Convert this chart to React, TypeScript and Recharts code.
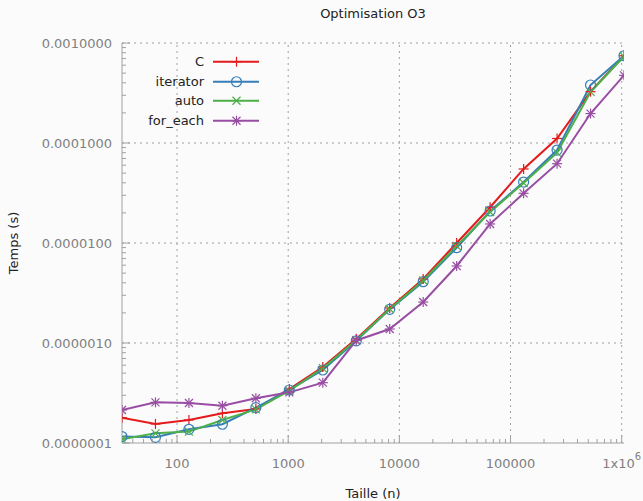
import React from 'react';
import { LineChart, Line, XAxis, YAxis, ReferenceLine, Legend, Label } from 'recharts';

const sizes = [32, 64, 128, 256, 512, 1024, 2048, 4096, 8192, 16384, 32768, 65536, 131072, 262144, 524288, 1048576];
const timesC = [1.79e-7, 1.55e-7, 1.7e-7, 1.98e-7, 2.19e-7, 3.47e-7, 5.75e-7, 1.1e-6, 2.24e-6, 4.37e-6, 1.0e-5, 2.28e-5, 5.5e-5, 1.11e-4, 3.26e-4, 7.46e-4];
const timesIterator = [1.16e-7, 1.14e-7, 1.37e-7, 1.54e-7, 2.26e-7, 3.39e-7, 5.37e-7, 1.05e-6, 2.17e-6, 4.1e-6, 8.97e-6, 2.09e-5, 4.07e-5, 8.5e-5, 3.8e-4, 7.46e-4];
const timesAuto = [1.09e-7, 1.25e-7, 1.3e-7, 1.7e-7, 2.17e-7, 3.33e-7, 5.6e-7, 1.07e-6, 2.19e-6, 4.22e-6, 9.33e-6, 2.04e-5, 3.98e-5, 8.0e-5, 3.24e-4, 7.33e-4];
const timesForEach = [2.14e-7, 2.55e-7, 2.51e-7, 2.36e-7, 2.8e-7, 3.21e-7, 4.01e-7, 1.06e-6, 1.38e-6, 2.57e-6, 5.89e-6, 1.55e-5, 3.14e-5, 6.21e-5, 1.97e-4, 4.75e-4];

const seriesNames = ['C', 'iterator', 'auto', 'for_each'];
const seriesColors = ['#e41a1c', '#377eb8', '#4daf4a', '#984ea3'];

const xMajor = [100, 1000, 10000, 100000, 1000000];
const xMajorLabels = ['100', '1000', '10000', '100000', '1x10^6'];
const yMajor = [1e-7, 1e-6, 1e-5, 1e-4, 1e-3];
const yMajorLabels = ['0.0000001', '0.0000010', '0.0000100', '0.0001000', '0.0010000'];
const minorMultipliers = [2, 3, 4, 5, 6, 7, 8, 9];

const xMinor: number[] = [];
[10, 100, 1000, 10000, 100000].forEach((d) =>
  minorMultipliers.forEach((m) => {
    const v = d * m;
    if (v >= 32 && v <= 1048576) xMinor.push(v);
  })
);
const yMinor: number[] = [];
[1e-7, 1e-6, 1e-5, 1e-4].forEach((d) => minorMultipliers.forEach((m) => yMinor.push(d * m)));

const xTicks = [...xMinor, ...xMajor].sort((a, b) => a - b);
const yTicks = [...yMinor, ...yMajor].sort((a, b) => a - b);

const data = sizes.map((n, i) => ({
  n,
  C: timesC[i],
  iterator: timesIterator[i],
  auto: timesAuto[i],
  for_each: timesForEach[i],
}));

const FONT = '"DejaVu Sans", Verdana, sans-serif';
const AXIS = '#a0a0a0';
const TICK_TEXT = '#808080';
const TEXT = '#222222';
const GRID = '#a0a0a0';

function marker(kind: string, cx: number, cy: number, color: string, key?: any) {
  const sw = 1.2;
  if (kind === 'C') {
    return (
      <g key={key}>
        <line x1={cx - 5} x2={cx + 5} y1={cy} y2={cy} stroke={color} strokeWidth={sw} />
        <line x1={cx} x2={cx} y1={cy - 5} y2={cy + 5} stroke={color} strokeWidth={sw} />
      </g>
    );
  }
  if (kind === 'iterator') {
    return (
      <g key={key}>
        <circle cx={cx} cy={cy} r={5} fill="none" stroke={color} strokeWidth={sw} />
      </g>
    );
  }
  if (kind === 'auto') {
    return (
      <g key={key}>
        <line x1={cx - 4} x2={cx + 4} y1={cy - 4} y2={cy + 4} stroke={color} strokeWidth={sw} />
        <line x1={cx - 4} x2={cx + 4} y1={cy + 4} y2={cy - 4} stroke={color} strokeWidth={sw} />
      </g>
    );
  }
  return (
    <g key={key}>
      <line x1={cx - 5} x2={cx + 5} y1={cy} y2={cy} stroke={color} strokeWidth={sw} />
      <line x1={cx} x2={cx} y1={cy - 5} y2={cy + 5} stroke={color} strokeWidth={sw} />
      <line x1={cx - 4} x2={cx + 4} y1={cy - 4} y2={cy + 4} stroke={color} strokeWidth={sw} />
      <line x1={cx - 4} x2={cx + 4} y1={cy + 4} y2={cy - 4} stroke={color} strokeWidth={sw} />
    </g>
  );
}

function makeDot(kind: string, color: string) {
  return (props: any) => {
    const { cx, cy, index } = props;
    if (cx == null || cy == null) return <g key={`${kind}-${index}`} />;
    return marker(kind, cx, cy, color, `${kind}-${index}`);
  };
}

function XTick(props: any) {
  const { x, y, payload } = props;
  const i = xMajor.indexOf(payload.value);
  const major = i >= 0;
  const label = major ? xMajorLabels[i] : '';
  let content: any = label;
  if (label.includes('^')) {
    const [base, exp] = label.split('^');
    content = (
      <>
        {base}
        <tspan dy={-7} fontSize={10}>
          {exp}
        </tspan>
      </>
    );
  }
  return (
    <g>
      <line x1={x} x2={x} y1={y} y2={y - (major ? 8 : 4)} stroke={AXIS} strokeWidth={1} />
      {major && (
        <text x={x} y={y + 20} textAnchor="middle" dominantBaseline="central" fill={TICK_TEXT} fontSize={13} fontFamily={FONT}>
          {content}
        </text>
      )}
    </g>
  );
}

function YTick(props: any) {
  const { x, y, payload } = props;
  const i = yMajor.findIndex((v) => Math.abs(v - payload.value) / v < 1e-6);
  const major = i >= 0;
  return (
    <g>
      <line x1={x} x2={x + (major ? 8 : 4)} y1={y} y2={y} stroke={AXIS} strokeWidth={1} />
      {major && (
        <text x={x - 10} y={y} textAnchor="end" dominantBaseline="central" fill={TICK_TEXT} fontSize={13} fontFamily={FONT}>
          {yMajorLabels[i]}
        </text>
      )}
    </g>
  );
}

function renderLegend(props: any) {
  const payload = [...(props.payload || [])].sort(
    (a: any, b: any) => seriesNames.indexOf(a.dataKey) - seriesNames.indexOf(b.dataKey)
  );
  return (
    <div style={{ fontFamily: FONT, fontSize: 13, color: TEXT }}>
      {payload.map((p: any) => (
        <div key={p.value} style={{ display: 'flex', alignItems: 'center', height: 19.5 }}>
          <div style={{ width: 204, textAlign: 'right', lineHeight: '19.5px' }}>{p.value}</div>
          <svg width={56} height={19.5} style={{ display: 'block' }}>
            <line x1={9} x2={55} y1={9.75} y2={9.75} stroke={p.color} strokeWidth={2} />
            {marker(p.dataKey, 32.5, 9.75, p.color)}
          </svg>
        </div>
      ))}
    </div>
  );
}

export default function App() {
  return (
    <div
      style={{
        position: 'absolute',
        left: 0,
        top: 0,
        width: 643,
        height: 501,
        background: '#fbfbfb',
        fontFamily: FONT,
      }}
    >
      <div
        style={{
          position: 'absolute',
          left: 122,
          width: 502,
          top: 5,
          lineHeight: '18px',
          textAlign: 'center',
          fontSize: 13,
          color: TEXT,
          fontFamily: FONT,
        }}
      >
        Optimisation O3
      </div>
      <LineChart width={643} height={501} data={data} margin={{ top: 43, right: 19, bottom: 0, left: 0 }}>
        {xMajor.map((v) => (
          <ReferenceLine key={`gx${v}`} x={v} stroke={GRID} strokeDasharray="2 4" strokeWidth={1} />
        ))}
        {yMajor.slice(1).map((v) => (
          <ReferenceLine key={`gy${v}`} y={v} stroke={GRID} strokeDasharray="2 4" strokeWidth={1} />
        ))}
        <XAxis
          dataKey="n"
          type="number"
          scale="log"
          domain={[32, 1048576]}
          ticks={xTicks}
          interval={0}
          tick={<XTick />}
          tickLine={false}
          tickSize={0}
          tickMargin={0}
          height={58}
          axisLine={{ stroke: AXIS, strokeWidth: 1 }}
          allowDataOverflow
        >
          <Label
            content={(p: any) => {
              const vb = p.viewBox || { x: 122, y: 443, width: 501 };
              return (
                <text x={vb.x + vb.width / 2} y={vb.y + 50} textAnchor="middle" dominantBaseline="central" fill={TEXT} fontSize={13} fontFamily={FONT}>
                  Taille (n)
                </text>
              );
            }}
          />
        </XAxis>
        <YAxis
          type="number"
          scale="log"
          domain={[1e-7, 1e-3]}
          ticks={yTicks}
          interval={0}
          tick={<YTick />}
          tickLine={false}
          tickSize={0}
          tickMargin={0}
          width={122}
          axisLine={{ stroke: AXIS, strokeWidth: 1 }}
          allowDataOverflow
        >
          <Label
            content={(p: any) => {
              const vb = p.viewBox || { x: 0, y: 43, height: 400 };
              const cx = vb.x + 13;
              const cy = vb.y + vb.height / 2;
              return (
                <text x={cx} y={cy} transform={`rotate(-90 ${cx} ${cy})`} textAnchor="middle" dominantBaseline="central" fill={TEXT} fontSize={13} fontFamily={FONT}>
                  Temps (s)
                </text>
              );
            }}
          />
        </YAxis>
        <Legend
          layout="vertical"
          align="center"
          verticalAlign="middle"
          itemSorter={null as any}
          wrapperStyle={{ left: 0, top: 52, width: 'auto', height: 'auto' }}
          content={renderLegend}
        />
        {seriesNames.map((name, i) => (
          <Line
            key={name}
            dataKey={name}
            name={name}
            type="linear"
            stroke={seriesColors[i]}
            strokeWidth={2}
            dot={makeDot(name, seriesColors[i])}
            activeDot={false}
            isAnimationActive={false}
          />
        ))}
      </LineChart>
    </div>
  );
}
